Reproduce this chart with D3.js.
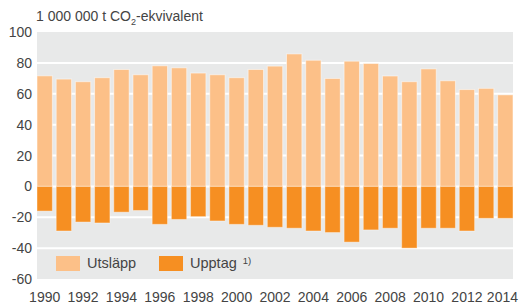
<!DOCTYPE html>
<html>
<head>
<meta charset="utf-8">
<script src="https://cdn.jsdelivr.net/npm/d3@7"></script>
<style>
  body { margin: 0; background: #fff; }
  svg text { font-family: "Liberation Sans", Arial, sans-serif; fill: #444; }
</style>
</head>
<body>
<svg id="chart" width="519" height="304"></svg>
<script>
// Data
const years = d3.range(1990, 2015);
const utslapp = [71.6, 69.5, 67.8, 70.4, 75.7, 72.3, 78.1, 76.8, 73.4, 72.3, 70.4, 75.7,
                 77.9, 85.8, 81.7, 69.9, 81.1, 79.6, 71.5, 67.8, 76.1, 68.4, 62.7, 63.5, 59.3];
const upptag = [-16.0, -28.9, -23.1, -23.7, -16.7, -15.6, -24.6, -21.4, -19.6, -22.4, -24.6, -25.2,
                -26.5, -27.1, -28.9, -29.9, -36.1, -28.2, -27.1, -40.0, -27.1, -27.1, -28.9, -20.7, -20.7];
const yTicks = [100, 80, 60, 40, 20, 0, -20, -40, -60];
const seriesNames = ["Utsläpp", "Upptag"];
const colors = ["#fcc088", "#f68f22"];

const svg = d3.select('#chart');
const plotLeft = 37, plotRight = 513, plotTop = 32, plotBottom = 279;

const x = d3.scaleBand()
    .domain(years)
    .range([plotLeft, plotRight])
    .paddingInner(0.2)
    .paddingOuter(0);

const y = d3.scaleLinear()
    .domain([-60, 100])
    .range([plotBottom, plotTop]);

// gray plot background
svg.append('rect')
    .attr('x', plotLeft)
    .attr('y', plotTop)
    .attr('width', plotRight - plotLeft)
    .attr('height', plotBottom - plotTop)
    .attr('fill', '#e8e9e9');

// white gridlines
svg.selectAll('.grid')
    .data(yTicks.filter(t => t > -60 && t < 100))
    .enter().append('line')
    .attr('x1', plotLeft)
    .attr('x2', plotRight)
    .attr('y1', d => y(d))
    .attr('y2', d => y(d))
    .attr('stroke', '#fff')
    .attr('stroke-width', 2);

// y tick labels
svg.selectAll('.ylab')
    .data(yTicks)
    .enter().append('text')
    .attr('x', 32)
    .attr('y', d => y(d))
    .attr('dy', '0.36em')
    .attr('text-anchor', 'end')
    .style('font-size', '14px')
    .text(d => d);

// emission bars
svg.selectAll('.utslapp')
    .data(utslapp)
    .enter().append('rect')
    .attr('x', (d, i) => x(years[i]))
    .attr('width', x.bandwidth())
    .attr('y', d => y(d))
    .attr('height', d => y(0) - y(d))
    .attr('fill', colors[0])
    .attr('stroke', '#fff')
    .attr('stroke-opacity', 0.5)
    .attr('stroke-width', 1);

// uptake bars
svg.selectAll('.upptag')
    .data(upptag)
    .enter().append('rect')
    .attr('x', (d, i) => x(years[i]))
    .attr('width', x.bandwidth())
    .attr('y', y(0))
    .attr('height', d => y(d) - y(0))
    .attr('fill', colors[1])
    .attr('stroke', '#fff')
    .attr('stroke-opacity', 0.4)
    .attr('stroke-width', 1);

// x labels, every other year (keep the last one inside the picture)
svg.selectAll('.xlab')
    .data(years.filter(yr => yr % 2 === 0))
    .enter().append('text')
    .attr('y', 302)
    .attr('text-anchor', 'middle')
    .style('font-size', '14px')
    .text(d => d)
    .attr('x', function (d) {
        const half = this.getComputedTextLength() / 2;
        return Math.min(x(d) + x.bandwidth() / 2, 518 - half);
    });

// unit title
const title = svg.append('text')
    .attr('x', 36)
    .attr('y', 21)
    .style('font-size', '14px');
title.append('tspan').text('1 000 000 t CO');
title.append('tspan').attr('dy', 4).style('font-size', '9px').text('2');
title.append('tspan').attr('dy', -4).text('-ekvivalent');

// legend
const legendX = [56, 159];
seriesNames.forEach((name, i) => {
    svg.append('rect')
        .attr('x', legendX[i])
        .attr('y', 256)
        .attr('width', 24)
        .attr('height', 15)
        .attr('fill', colors[i]);
    const t = svg.append('text')
        .attr('x', legendX[i] + 31)
        .attr('y', 268)
        .style('font-size', '14.5px')
        .text(name);
    if (i === 1) {
        t.append('tspan').attr('dx', 6).attr('dy', -4).style('font-size', '9.5px').text('1)');
    }
});
</script>
</body>
</html>
